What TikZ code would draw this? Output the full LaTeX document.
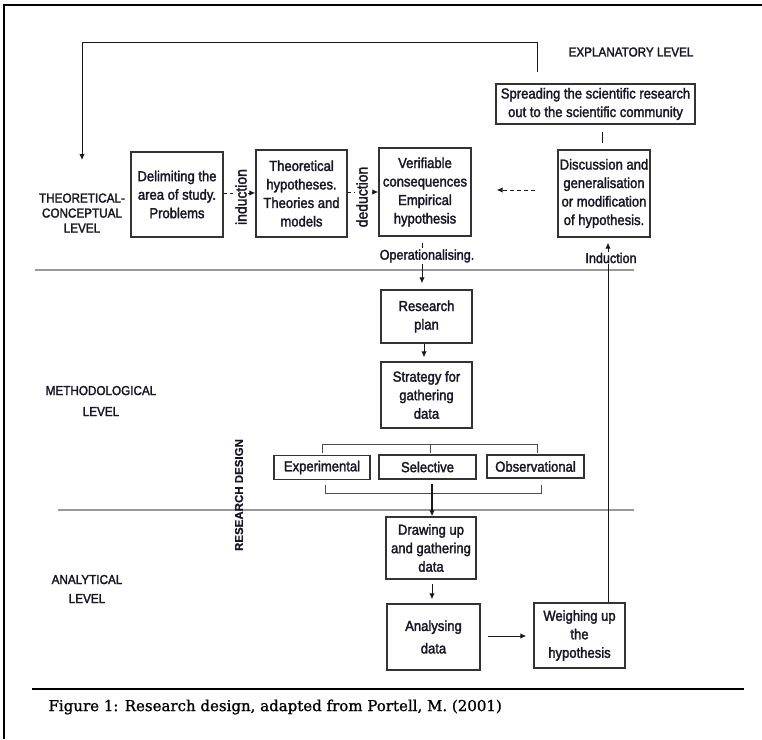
\documentclass[tikz,border=0pt]{standalone}
\usepackage{fontspec}
\setmainfont{Liberation Sans}[FakeStretch=0.9,FakeBold=2]
\newfontfamily\widesans{Liberation Sans}[BoldFeatures={FakeBold=0.5}]
\newfontfamily\captionserif{DejaVu Serif}[FakeBold=1]
\usetikzlibrary{arrows.meta}
\definecolor{ink}{RGB}{22,22,38}
\begin{document}
\begin{tikzpicture}[x=1pt,y=-1pt,
  every node/.style={text=ink},
  box/.style={draw=black!80,line width=1.4pt,align=center,inner sep=0pt,
    font=\fontsize{14.5}{18.5}\selectfont},
  optbox/.style={box,line width=1.2pt,minimum width=96,minimum height=24},
  lvl/.style={align=center,font=\fontsize{13}{15}\selectfont},
  vlab/.style={rotate=90,fill=white,inner sep=1pt,font=\fontsize{15.5}{17}\selectfont},
  conn/.style={line width=1pt,draw=black!90},
  arr/.style={conn,-{Latex[length=6pt,width=5.5pt]}},
  levelrule/.style={draw=black!40,line width=1.3pt},
  brace/.style={draw=black!70,line width=1pt}]
\useasboundingbox (0,0) rectangle (762,739);

% outer frame (left and top edges)
\draw[line width=2pt] (4,739) -- (4,5) -- (762,5);

% level separators
\draw[levelrule] (35,270) -- (634,270);
\draw[levelrule] (58,510) -- (634,510);

% level captions
\node[lvl] at (631,52) {EXPLANATORY LEVEL};
\node[lvl] at (82,213) {THEORETICAL-\\CONCEPTUAL\\LEVEL};
\node[lvl,font=\fontsize{13}{21}\selectfont] at (101,401) {METHODOLOGICAL\\LEVEL};
\node[lvl,font=\fontsize{13}{19}\selectfont] at (87,589) {ANALYTICAL\\LEVEL};
\node[rotate=90,font=\widesans\bfseries\fontsize{11.5}{13}\selectfont] at (239,495) {RESEARCH DESIGN};

% theoretical-conceptual row
\node[box,minimum width=199,minimum height=40] (spread) at (595.5,104)
  {Spreading the scientific research\\out to the scientific community};
\node[box,minimum width=92,minimum height=85] (delim) at (177,194.5)
  {Delimiting the\\area of study.\\Problems};
\node[box,minimum width=91,minimum height=87] (theo) at (301.5,193.5)
  {Theoretical\\hypotheses.\\Theories and\\models};
\node[box,minimum width=92,minimum height=88] (verif) at (425,192)
  {Verifiable\\consequences\\Empirical\\hypothesis};
\node[box,minimum width=92,minimum height=87] (disc) at (604,193.5)
  {Discussion and\\generalisation\\or modification\\of hypothesis.};

% methodological column
\node[box,minimum width=91,minimum height=53] (plan) at (426.5,316.5)
  {Research\\plan};
\node[box,minimum width=91,minimum height=66] (strat) at (426.5,395)
  {Strategy for\\gathering\\data};
\node[optbox] (exper) at (322,467.5) {Experimental};
\node[optbox,minimum width=97] (selec) at (427.5,467) {Selective};
\node[optbox,minimum width=97,minimum height=23] (obser) at (535.5,466.5) {Observational};

% analytical column
\node[box,minimum width=90,minimum height=62] (draw) at (431,548)
  {Drawing up\\and gathering\\data};
\node[box,minimum width=93,minimum height=66] (anal) at (433.5,637)
  {Analysing\\[4pt]data};
\node[box,minimum width=91,minimum height=65] (weigh) at (579.5,635.5)
  {Weighing up\\the\\hypothesis};

% feedback from the explanatory level back to the start
\coordinate (fbstart) at (537,72);
\coordinate (fbend) at (82,160);
\draw[arr] (fbstart) -- ++(0,-30) -| (fbend);

% spreading <-> discussion
\draw[conn,shorten <=7pt,shorten >=6pt] (spread.south -| 602,0) -- (disc.north -| 602,0);

% induction / deduction steps
\draw[arr,dashed,dash pattern=on 3pt off 3pt] (delim.east |- 0,193) -- (theo.west |- 0,193);
\node[vlab] at (241,197) {induction};
\draw[arr,dashed,dash pattern=on 3pt off 3pt] (theo.east |- 0,192) -- (verif.west |- 0,192);
\node[vlab] at (362,197) {deduction};
\draw[arr,dashed,dash pattern=on 4pt off 3pt,shorten <=22pt,shorten >=25pt]
  (disc.west |- 0,190) -- (verif.east |- 0,190);

% operationalising
\draw[arr,shorten <=6pt,shorten >=6pt] (verif.south -| 422,0) -- (plan.north -| 422,0);
\node[fill=white,inner sep=1pt,font=\fontsize{14}{16}\selectfont] at (427,256) {Operationalising.};
\draw[arr,shorten >=4pt] (plan.south -| 424,0) -- (strat.north -| 424,0);

% research design options
\draw[brace] (322,453) -- (322,444) -- (537,444) -- (537,453);
\draw[brace] (430,444) -- (430,453);
\draw[brace] (325,485) -- (325,493) -- (541,493) -- (541,485);
\draw[arr,line width=1.3pt] (432,484) -- (draw.north -| 432,0);

% analysis chain
\draw[arr,shorten <=4pt,shorten >=4pt] (draw.south -| 432,0) -- (anal.north -| 432,0);
\draw[arr,shorten <=7pt,shorten >=7pt] (anal.east |- 0,636) -- (weigh.west |- 0,636);

% induction back to the discussion
\draw[arr,shorten >=5pt] (weigh.north -| 608,0) -- (disc.south -| 608,0);
\node[fill=white,inner sep=1pt,font=\fontsize{14}{16}\selectfont] at (611,258) {Induction};

% caption
\draw[line width=1.3pt] (32,689) -- (744,689);
\node[anchor=west,text=black,font=\captionserif\fontsize{15}{17}\selectfont] at (45,707)
  {Figure 1: Research design, adapted from Portell, M. (2001)};
\end{tikzpicture}
\end{document}
